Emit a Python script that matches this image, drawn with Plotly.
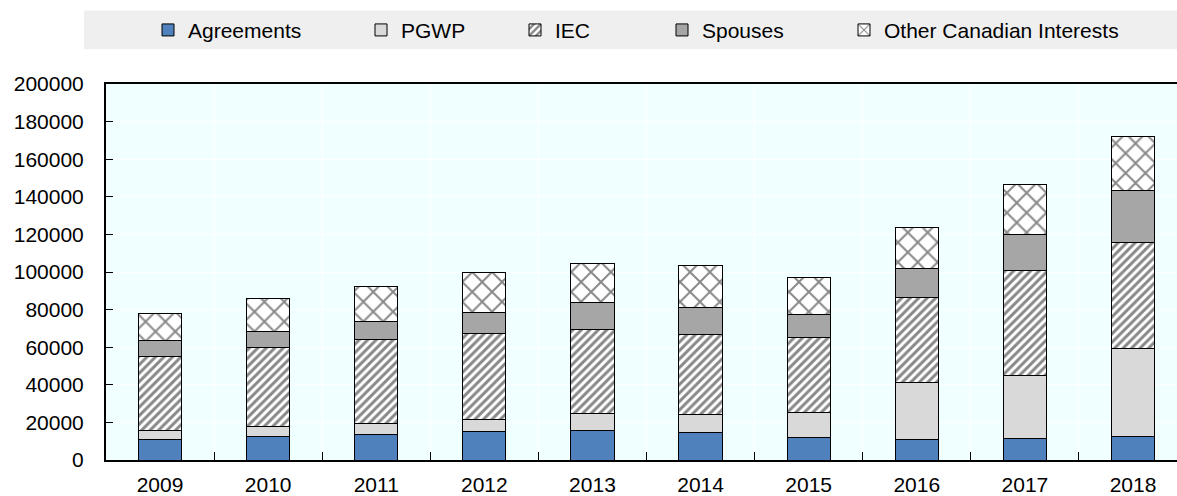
import plotly.graph_objects as go

# Work permits issued by programme, 2009-2018
years = ["2009", "2010", "2011", "2012", "2013", "2014", "2015", "2016", "2017", "2018"]
agreements = [11100, 12700, 13400, 15300, 15900, 14800, 11800, 11100, 11500, 12700]
pgwp = [4600, 5300, 6000, 6200, 8800, 9200, 13600, 30100, 33400, 46400]
iec = [39200, 41800, 44700, 46000, 44900, 43000, 39600, 45000, 56100, 56700]
spouses = [8800, 8400, 9400, 11100, 14000, 14300, 12400, 15900, 19200, 27400]
other = [14000, 17600, 18800, 21300, 20900, 22200, 19700, 21800, 26100, 29000]

series_names = ["Agreements", "PGWP", "IEC", "Spouses", "Other Canadian Interests"]
series_values = [agreements, pgwp, iec, spouses, other]

W, H = 1177, 496
L, R, T, B = 106, 0, 84, 34
pw, ph = W - L - R, H - T - B
FONT = "Liberation Sans, Arial, sans-serif"
FS = 21

styles = [
    dict(color="#4f81bd"),
    dict(color="#d9d9d9"),
    dict(color="white", pattern=dict(shape="/", fgcolor="#111111", bgcolor="white", size=6, solidity=0.5)),
    dict(color="#a6a6a6"),
    dict(color="white", pattern=dict(shape="x", fgcolor="#111111", bgcolor="white", size=14, solidity=0.26)),
]

# text start positions (px) of each legend entry along the header strip
legend_text_px = [188, 401, 555, 702, 884]

fig = go.Figure()
for i, (name, vals, st) in enumerate(zip(series_names, series_values, styles)):
    lg = "legend" if i == 0 else f"legend{i + 1}"
    fig.add_trace(go.Bar(
        x=years, y=vals, name=name, width=0.4,
        marker=dict(line=dict(color="black", width=1), **st),
        legend=lg,
    ))

legend_y = (H - B - 30) / ph
legend_layout = {}
for i, px in enumerate(legend_text_px):
    key = "legend" if i == 0 else f"legend{i + 1}"
    legend_layout[key] = dict(
        x=(px - 40 - L) / pw, xanchor="left",
        y=legend_y, yanchor="middle",
        bgcolor="rgba(0,0,0,0)", borderwidth=0,
        font=dict(family=FONT, size=FS, color="black"),
        itemwidth=30, orientation="h",
    )

fig.update_layout(
    width=W, height=H,
    margin=dict(l=L, r=R, t=T, b=B, pad=0),
    barmode="stack",
    paper_bgcolor="white",
    plot_bgcolor="#f0ffff",
    font=dict(family=FONT, size=FS, color="black"),
    showlegend=True,
    shapes=[dict(
        type="rect", xref="paper", yref="paper", layer="below",
        x0=(84 - L) / pw, x1=1.0,
        y0=(H - B - 49) / ph, y1=(H - B - 10) / ph,
        fillcolor="#efefef", line=dict(width=0),
    )],
    **legend_layout,
)

fig.update_xaxes(
    type="category", range=[-0.5, 9.407],
    showline=True, linecolor="black", linewidth=2, mirror=True,
    ticks="inside", tickson="boundaries", ticklen=8, tickcolor="black", tickwidth=1,
    showgrid=True, gridcolor="white", gridwidth=1,
    ticklabelstandoff=5,
    tickfont=dict(size=FS),
)
fig.update_yaxes(
    range=[0, 200000], dtick=20000, tickformat="d",
    showline=True, linecolor="black", linewidth=2,
    ticks="inside", ticklen=7, tickcolor="black", tickwidth=1,
    showgrid=True, gridcolor="white", gridwidth=1,
    zeroline=False,
    ticklabelstandoff=16,
    tickfont=dict(size=FS),
)

fig.write_html("out.html")
